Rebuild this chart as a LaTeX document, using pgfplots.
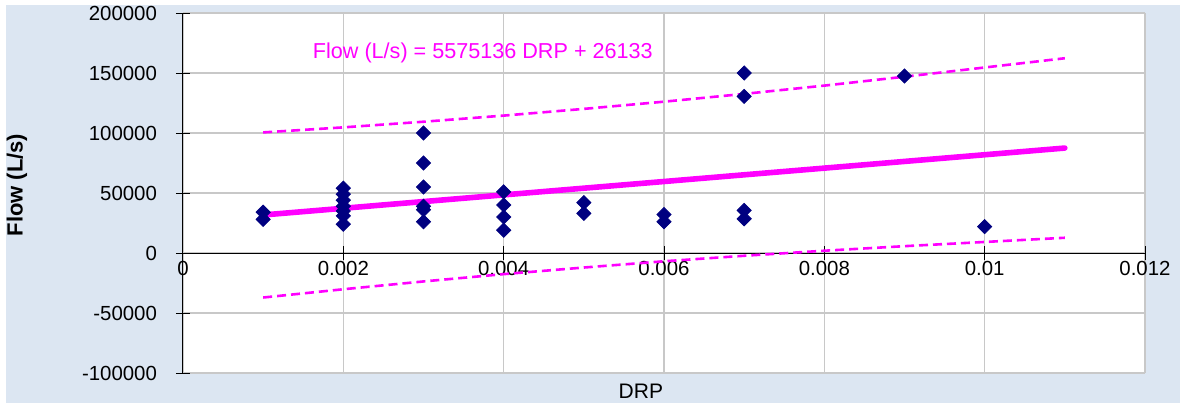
\documentclass[border=0pt]{standalone}
\usepackage{fontspec}
\setmainfont{Liberation Sans}
\usepackage{pgfplots}
\pgfplotsset{compat=1.18}
\definecolor{bgblue}{RGB}{220,230,242}
\definecolor{navy}{RGB}{0,0,128}
\definecolor{gridgray}{RGB}{200,200,200}
\definecolor{fitmag}{RGB}{255,0,255}

\pgfplotstableread{
x      y
0.001  34000
0.001  28000
0.002  54000
0.002  49000
0.002  44000
0.002  39000
0.002  35000
0.002  31000
0.002  24000
0.003  100000
0.003  75000
0.003  55000
0.003  39000
0.003  36000
0.003  26000
0.004  51000
0.004  40000
0.004  30000
0.004  19000
0.005  42000
0.005  33000
0.006  32000
0.006  26000
0.007  150000
0.007  130500
0.007  35500
0.007  28500
0.009  147500
0.010  22000
}\obs

% fitted line and prediction limits
\pgfplotstableread{
x      fit    up      lo
0.001  31708  100500  -37100
0.002  37283  104700  -30200
0.003  42858  109400  -23700
0.004  48434  114500  -17600
0.005  54009  120100  -12100
0.006  59584  126100  -6900
0.007  65159  132600  -2300
0.008  70734  139500  1900
0.009  76309  146900  5700
0.010  81884  154600  9200
0.011  87459  162300  12700
}\fit

\begin{document}
\begin{tikzpicture}
\path[use as bounding box] (0,0) rectangle (590pt,201.5pt);
\fill[white] (0,0) rectangle (590pt,201.5pt);
\fill[bgblue] (3pt,0) rectangle (590pt,199pt);
\fill[white] (91.5pt,15pt) rectangle (572.5pt,195pt);
\begin{axis}[
    at={(91.5pt,15pt)}, anchor=south west,
    scale only axis, width=481pt, height=180pt,
    xmin=0, xmax=0.012, ymin=-100000, ymax=200000,
    axis x line=middle, axis y line=left,
    x axis line style={-, black, line width=0.5pt},
    y axis line style={-, black, line width=0.5pt},
    xtick={0,0.002,0.004,0.006,0.008,0.01,0.012},
    ytick={-100000,-50000,0,50000,100000,150000,200000},
    hide obscured x ticks=false,
    scaled ticks=false,
    xtick align=center, ytick align=center, major tick length=7pt,
    tick style={black, line width=0.5pt},
    grid=major,
    major grid style={gridgray, line width=0.6pt},
    /pgf/number format/assume math mode=true,
    xticklabel style={/pgf/number format/fixed, /pgf/number format/precision=3,
        font=\fontsize{10.2}{12}\selectfont, yshift=3pt},
    yticklabel style={/pgf/number format/fixed, /pgf/number format/set thousands separator={},
        font=\fontsize{10.2}{12}\selectfont, xshift=-6pt},
    ylabel={\bfseries Flow (L/s)},
    ylabel style={at={(axis description cs:-0.1726,0.522)}, anchor=center,
        font=\fontsize{11}{13}\selectfont},
    xlabel={DRP},
    xlabel style={at={(axis description cs:0.476,-0.05)}, anchor=center,
        font=\fontsize{10.5}{12}\selectfont},
    clip=false,
]
\addplot[fitmag, line width=2.8pt, line cap=round] table[x=x, y=fit] {\fit};
\addplot[fitmag, line width=1.3pt, dash pattern=on 4.5pt off 2.5pt] table[x=x, y=up] {\fit};
\addplot[fitmag, line width=1.3pt, dash pattern=on 4.5pt off 2.5pt] table[x=x, y=lo] {\fit};
\addplot[only marks, mark=square*, mark size=2.5pt,
    mark options={rotate=45, fill=navy, draw=navy}] table[x=x, y=y] {\obs};
\node[fitmag, font=\fontsize{10.8}{13}\selectfont] at (axis cs:0.00374,166500)
    {Flow (L/s) = 5575136 DRP + 26133};
\end{axis}
\end{tikzpicture}
\end{document}
